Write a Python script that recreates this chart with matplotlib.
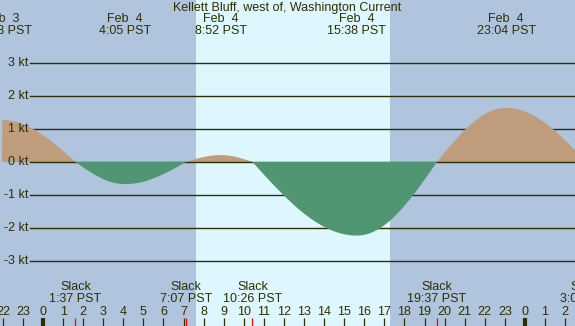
import numpy as np
import matplotlib
matplotlib.use("Agg")
import matplotlib.pyplot as plt

# ---- data (hours relative to Feb 4 00:00 PST) ----
title = "Kellett Bluff, west of, Washington Current"
event_hours = [-2.033, 1.617, 4.083, 7.117, 8.867, 10.433, 15.633, 19.617, 23.067, 27.05]
event_kt = [1.27, 0.0, -0.67, 0.0, 0.21, 0.0, -2.23, 0.0, 1.64, 0.0]

max_hours = [-2.033, 4.083, 8.867, 15.633, 23.067]
max_dates = ["Feb  3", "Feb  4", "Feb  4", "Feb  4", "Feb  4"]
max_times = ["21:58 PST", "4:05 PST", "8:52 PST", "15:38 PST", "23:04 PST"]

slack_hours = [1.617, 7.117, 10.433, 19.617, 27.05]
slack_times = ["1:37 PST", "7:07 PST", "10:26 PST", "19:37 PST", "3:03 PST"]

sunrise, sunset = 7.62, 17.28
ytick_kt = [3, 2, 1, 0, -1, -2, -3]
hour_ticks = list(range(-2, 27))

# ---- style ----
W, H = 575, 326
night_c = "#b0c4de"
day_c = "#def7fe"
flood_c = "#bf9c7b"
ebb_c = "#519672"
ink = "#2e2e00"
plt.rcParams['font.family'] = ['Liberation Sans', 'DejaVu Sans']
fs = 9

fig = plt.figure(figsize=(W / 100, H / 100), dpi=100)
ax = fig.add_axes([0, 0, 1, 1])
ax.set_axis_off()

x0 = -43 / 20.08
x1 = x0 + W / 20.08
ax.set_xlim(x0, x1)
ax.set_ylim(-(H - 162) / 33, 162 / 33)
ax.set_facecolor(night_c)
fig.patch.set_facecolor(night_c)
ax.axvspan(sunrise, sunset, color=day_c, lw=0, zorder=0)

# curve: quarter-sine between each slack and maximum
t = np.linspace(x0, x1, 2000)
v = np.zeros_like(t)
eh = np.array(event_hours); ek = np.array(event_kt)
for i in range(len(eh) - 1):
    m = (t >= eh[i]) & (t <= eh[i + 1])
    f = (t[m] - eh[i]) / (eh[i + 1] - eh[i])
    if ek[i] == 0:
        v[m] = ek[i + 1] * np.sin(np.pi / 2 * f)
    else:
        v[m] = ek[i] * np.cos(np.pi / 2 * f)

xt = ax.get_xaxis_transform()
def yf(py):
    return 1 - py / H

# gridlines
for k in ytick_kt:
    z = 2.5 if k == 0 else 1
    ax.axhline(k, xmin=30 / W, xmax=1, color=ink, lw=1.0, zorder=z)
    ax.text(28.5 / W, k, f"{k} kt", transform=ax.get_yaxis_transform(),
            ha="right", va="center", fontsize=fs, color=ink)

ax.fill_between(t, 0, v, where=v >= 0, color=flood_c, lw=0, zorder=2, interpolate=True)
ax.fill_between(t, 0, v, where=v <= 0, color=ebb_c, lw=0, zorder=3, interpolate=True)

# title
ax.text(0.5, yf(7.5), title, transform=ax.transAxes, ha="center", va="center",
        fontsize=fs, color=ink, zorder=5)
# max labels
for h, d, s in zip(max_hours, max_dates, max_times):
    ax.text(h, yf(19.5), d, transform=xt, ha="center", va="center", fontsize=fs, color=ink, zorder=5)
    ax.text(h, yf(31.5), s, transform=xt, ha="center", va="center", fontsize=fs, color=ink, zorder=5)
# slack labels
for h, s in zip(slack_hours, slack_times):
    ax.text(h, yf(287.5), "Slack", transform=xt, ha="center", va="center", fontsize=fs, color=ink, zorder=5)
    ax.text(h, yf(299.5), s, transform=xt, ha="center", va="center", fontsize=fs, color=ink, zorder=5)
    ax.vlines(h, 0, 8 / H, transform=xt, color="red", lw=0.9, zorder=6)

# hour ticks
for h in hour_ticks:
    lab = str(h % 24)
    ax.text(h, yf(312), lab, transform=xt, ha="center", va="center", fontsize=fs, color=ink, zorder=5)
    lw = 3.0 if h % 24 == 0 else 0.9
    ax.vlines(h, 0, 8 / H, transform=xt, color=ink, lw=lw, zorder=5)

fig.savefig("out.png", dpi=100, facecolor=night_c)
